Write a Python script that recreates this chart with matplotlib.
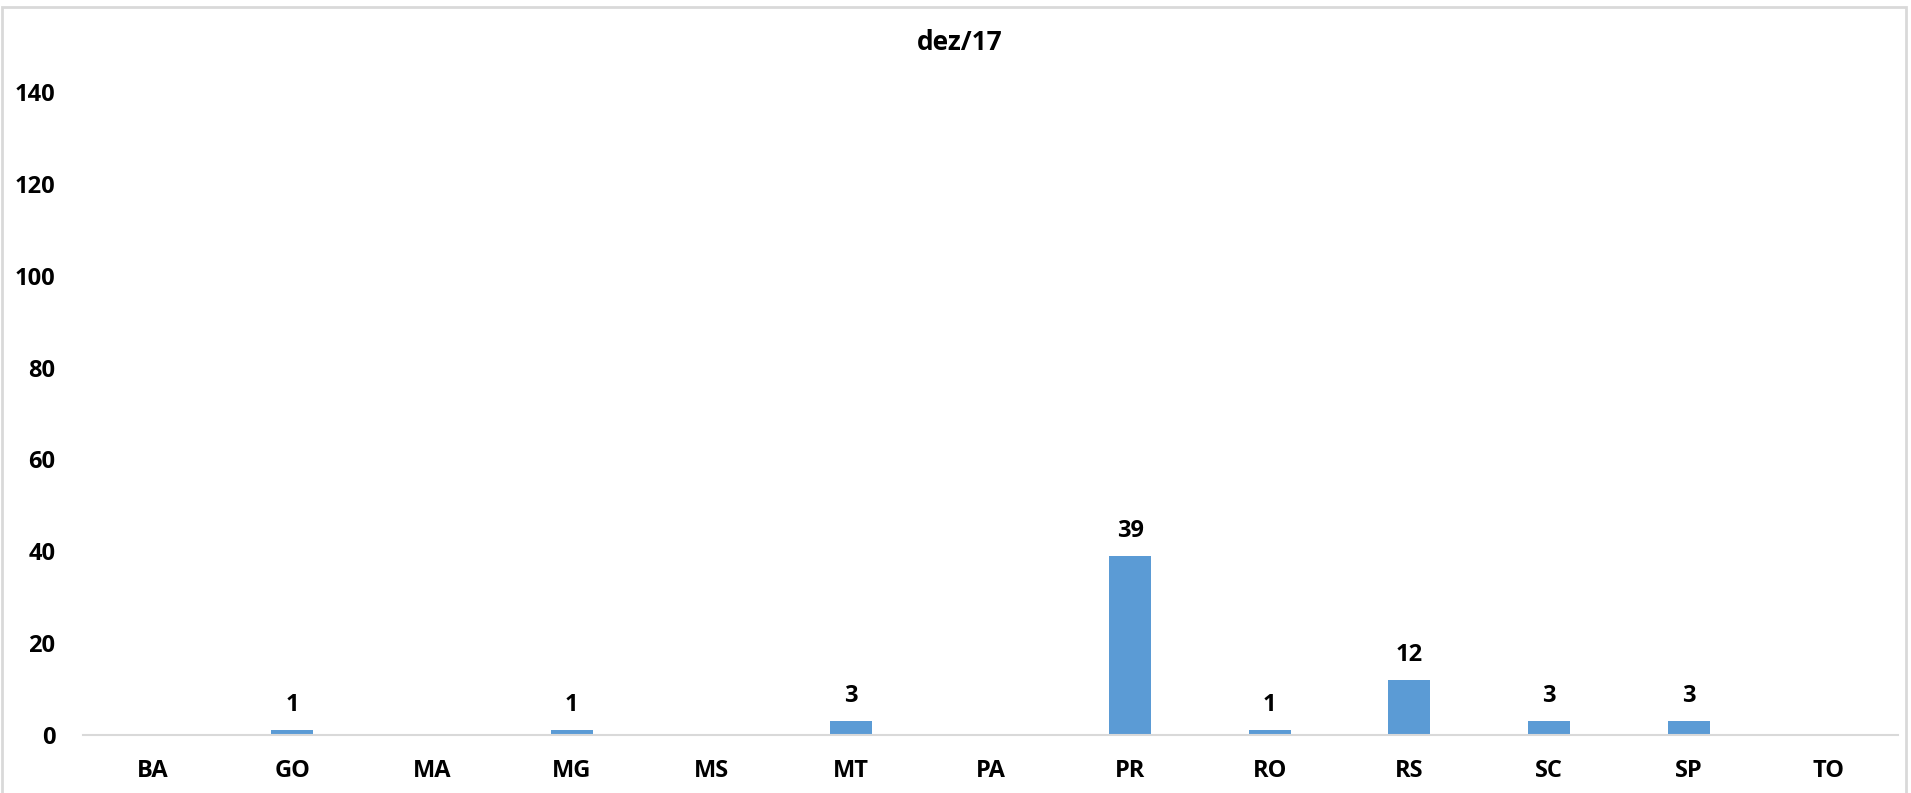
import matplotlib
matplotlib.use("Agg")
import matplotlib.pyplot as plt
from matplotlib.patches import Rectangle

categories = ["BA", "GO", "MA", "MG", "MS", "MT", "PA", "PR", "RO", "RS", "SC", "SP", "TO"]
values = [0, 1, 0, 1, 0, 3, 0, 39, 1, 12, 3, 3, 0]
labels = ["", "1", "", "1", "", "3", "", "39", "1", "12", "3", "3", ""]
yticks = [0, 20, 40, 60, 80, 100, 120, 140]
title = "dez/17"

W, H = 1911, 793
plt.rcParams['font.family'] = ['Open Sans', 'DejaVu Sans']
fig = plt.figure(figsize=(W / 100, H / 100), dpi=100)

FS = 17
ax = fig.add_axes([83 / W, 1 - 735 / H, (1898 - 83) / W, (735 - 92) / H])
x = range(len(categories))
ax.bar(x, values, width=0.30, color="#5B9BD5", zorder=2)
ax.set_xlim(-0.5, len(categories) - 0.5)
ax.set_ylim(0, 140)
ax.set_yticks(yticks)
ax.set_yticklabels([str(t) for t in yticks], fontsize=FS, fontweight='bold')
ax.set_xticks(list(x))
ax.set_xticklabels(categories, fontsize=FS, fontweight='bold')
ax.tick_params(axis='both', length=0)
ax.tick_params(axis='y', pad=20)
ax.tick_params(axis='x', pad=17)
for s in ["top", "right", "left"]:
    ax.spines[s].set_visible(False)
ax.spines["bottom"].set_color("#D9D9D9")
ax.spines["bottom"].set_linewidth(1.5)

for xi, v, lab in zip(x, values, labels):
    if lab:
        ax.annotate(lab, (xi, v), xytext=(0, 18), textcoords="offset points",
                    ha="center", va="center", fontsize=FS, fontweight='bold')

fig.text(960 / W, 1 - 43 / H, title, ha="center", va="center", fontsize=19, fontweight='bold')

fig.patches.append(Rectangle((1.5 / W, -0.05), (1906 - 1.5) / W, 1.05 - 7 / H,
                             transform=fig.transFigure, fill=False,
                             edgecolor="#D9D9D9", linewidth=2))

fig.savefig("out.png", dpi=100)
